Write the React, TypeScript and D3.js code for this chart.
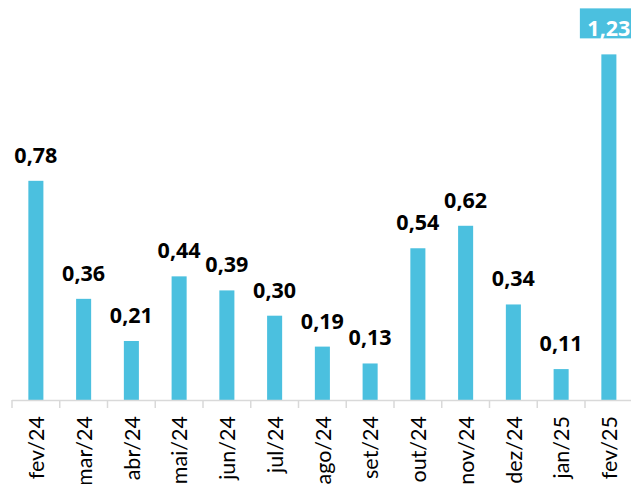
import React from "react";
import * as d3 from "d3";

const months = [
  "fev/24", "mar/24", "abr/24", "mai/24", "jun/24", "jul/24", "ago/24",
  "set/24", "out/24", "nov/24", "dez/24", "jan/25", "fev/25",
];
const values = [0.78, 0.36, 0.21, 0.44, 0.39, 0.3, 0.19, 0.13, 0.54, 0.62, 0.34, 0.11, 1.23];
// the latest month gets its label inside a filled box
const highlighted = ["fev/25"];

const WIDTH = 631;
const HEIGHT = 484;
const BAR_COLOR = "#4BC0DF";
const AXIS_COLOR = "#D9D9D9";
const FONT = "Lato, 'Open Sans', sans-serif";
const LABEL_FONT = "'Open Sans', Lato, sans-serif";

const ptBR = d3.formatLocale({
  decimal: ",",
  thousands: ".",
  grouping: [3],
  currency: ["R$", ""],
});
const fmt = ptBR.format(".2f");

export default function App() {
  const x = d3.scaleBand<string>().domain(months).range([12, 632.75]).padding(0);
  const y = d3.scaleLinear().domain([0, 1.4]).range([400, 6.6]);
  const barW = x.bandwidth() * 0.315;
  const baseY = y(0);
  const ticks = [...months.map((m) => x(m) as number), (x(months[months.length - 1]) as number) + x.bandwidth()];

  return (
    <svg
      width={WIDTH}
      height={HEIGHT}
      style={{ position: "absolute", left: 0, top: 0, background: "#fff" }}
      fontFamily={FONT}
    >
      {/* bars */}
      {months.map((m, i) => {
        const cx = (x(m) as number) + x.bandwidth() / 2;
        return (
          <rect
            key={m}
            x={cx - barW / 2}
            y={y(values[i])}
            width={barW}
            height={baseY - y(values[i])}
            fill={BAR_COLOR}
          />
        );
      })}

      {/* category axis */}
      <line x1={12} x2={WIDTH} y1={baseY + 0.5} y2={baseY + 0.5} stroke={AXIS_COLOR} strokeWidth={1.5} />
      {ticks.map((t, i) => (
        <line key={i} x1={t} x2={t} y1={baseY} y2={baseY + 8} stroke={AXIS_COLOR} strokeWidth={1.5} />
      ))}
      {months.map((m) => {
        const cx = (x(m) as number) + x.bandwidth() / 2;
        return (
          <text
            key={m}
            transform={`translate(${cx},${baseY + 16}) rotate(-90)`}
            textAnchor="end"
            dy="0.38em"
            fontSize={21.5}
            fill="#000"
          >
            {m}
          </text>
        );
      })}

      {/* value labels */}
      {months.map((m, i) => {
        const cx = (x(m) as number) + x.bandwidth() / 2;
        const ly = y(values[i]) - 18;
        const boxed = highlighted.includes(m);
        return (
          <g key={m}>
            {boxed && <rect x={cx - 29} y={ly - 28} width={58} height={30} fill={BAR_COLOR} />}
            <text
              x={cx}
              y={ly}
              textAnchor="middle"
              fontFamily={LABEL_FONT}
              fontSize={21.5}
              fontWeight="bold"
              fill={boxed ? "#fff" : "#000"}
            >
              {fmt(values[i])}
            </text>
          </g>
        );
      })}
    </svg>
  );
}
